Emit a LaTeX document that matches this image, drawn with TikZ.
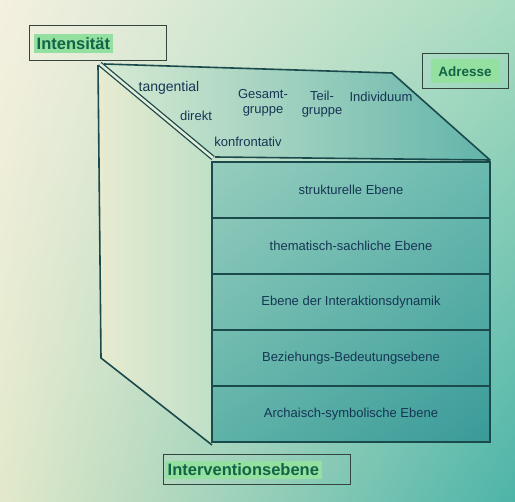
\documentclass[tikz,border=0pt]{standalone}
\usepackage{fontspec}
\setmainfont{Liberation Sans}
\usetikzlibrary{shadings}
\definecolor{bgA}{HTML}{F5F0E0}
\definecolor{bgB}{HTML}{A8DCC0}
\definecolor{bgC}{HTML}{E2E9CA}
\definecolor{bgD}{HTML}{4CB4A8}
\definecolor{lfA}{HTML}{E8EBD0}
\definecolor{lfB}{HTML}{BFE0C8}
\definecolor{tfA}{HTML}{D6EAD2}
\definecolor{tfB}{HTML}{62B4AA}
\definecolor{ffA}{HTML}{96CDBD}
\definecolor{ffB}{HTML}{6ABAB0}
\definecolor{ffC}{HTML}{5EB2A8}
\definecolor{ffD}{HTML}{3A9A98}
\definecolor{dblc}{HTML}{E6EEDA}
\definecolor{edgec}{HTML}{1B4A4C}
\definecolor{txtc}{HTML}{163654}
\definecolor{hlc}{HTML}{94E0A0}
\definecolor{lblc}{HTML}{126446}
\definecolor{boxc}{HTML}{34443E}
\begin{document}
\begin{tikzpicture}[x=1pt,y=-1pt,
  edge/.style={draw=edgec,line width=1.6pt,line join=round},
  layer/.style={draw=edgec,line width=1.6pt,minimum width=278pt,minimum height=56pt,inner sep=0pt,
    text=txtc,font=\fontsize{13}{15}\selectfont},
  toptxt/.style={text=txtc,font=\fontsize{13}{14.5}\selectfont,inner sep=1pt,align=center},
  lblbox/.style={draw=boxc,line width=1pt,inner sep=0pt},
  lbltxt/.style={fill=hlc,text=lblc,font=\bfseries\fontsize{16.5}{18}\selectfont,inner sep=3pt}]
\shade[upper left=bgA, upper right=bgB, lower left=bgC, lower right=bgD] (0,0) rectangle (515,502);
\useasboundingbox (0,0) rectangle (515,502);
% left face
\shade[left color=lfA, right color=lfB] (98,65) -- (101,358) -- (212,445) -- (212,158) -- cycle;
% top face
\shade[left color=tfA, right color=tfB] (104,64) -- (392,73) -- (490,160) -- (215,157) -- cycle;
% front face
\shade[upper left=ffA, upper right=ffB, lower left=ffC, lower right=ffD] (212,162) rectangle (490,442);
% edges
\draw[edge] (98,65) -- (101,358) -- (212,445);
\draw[edge] (104,64) -- (392,73) -- (490,160) -- (215,157);
\draw[draw=edgec,line width=1.3pt,double=dblc,double distance=2.5pt] (100,64) -- (213,158);
% layers
\node[layer] (l1) at (351,190) {strukturelle Ebene};
\node[layer] (l2) at (351,246) {thematisch-sachliche Ebene};
\node[layer] (l3) at (351,302) {Ebene der Interaktionsdynamik};
\node[layer] (l4) at (351,358) {Beziehungs-Bedeutungsebene};
\node[layer] (l5) at (351,414) {Archaisch-symbolische Ebene};
% top face labels
\node[toptxt,font=\fontsize{14}{15}\selectfont] (tang) at (169,88) {tangential};
\node[toptxt] (dir) at (196,116) {direkt};
\node[toptxt] (konf) at (248,142) {konfrontativ};
\node[toptxt] (ges) at (263,103) {Gesamt-\\gruppe};
\node[toptxt] (teil) at (322,104) {Teil-\\gruppe};
\node[toptxt] (ind) at (381,97) {Individuum};
% label boxes
\node[lblbox,minimum width=137pt,minimum height=35pt] (intbox) at (97.5,43.5) {};
\node[lbltxt,anchor=west] (int) at ([xshift=5pt]intbox.west) {Intensität};
\node[lblbox,minimum width=86pt,minimum height=35pt] (adrbox) at (465,71.5) {};
\node[lbltxt,font=\bfseries\fontsize{13.5}{15}\selectfont,minimum width=68pt,minimum height=24pt] (adr) at (adrbox.center) {Adresse};
\node[lblbox,minimum width=187pt,minimum height=30pt] (intvbox) at (256.5,470) {};
\node[lbltxt,anchor=west] (intv) at ([xshift=2pt]intvbox.west) {Interventionsebene};
\end{tikzpicture}
\end{document}
